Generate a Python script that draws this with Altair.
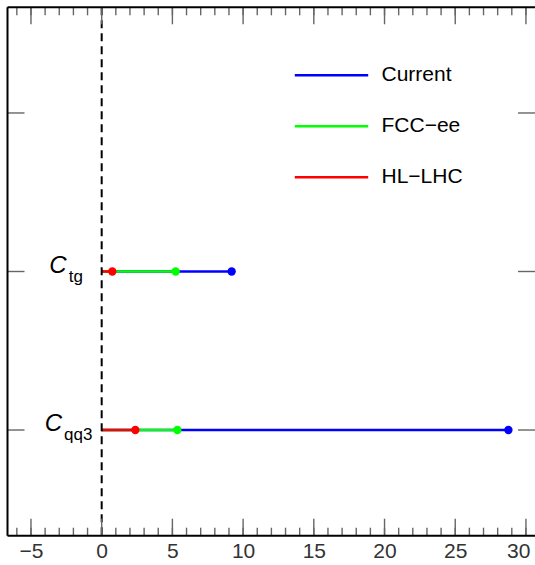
import altair as alt
import pandas as pd

# ---- data ----
coef_keys = ["qq3", "tg"]                 # coefficient subscripts (bottom to top)
row_order = [" ", "tg", "qq3"]            # rows top -> bottom (top row empty)
scenarios = ["Current", "FCC\u2212ee", "HL\u2212LHC"]
colors = ["#0000ff", "#00ff00", "#ff0000"]
current = [28.76, 9.19]
fcc_ee = [5.35, 5.23]
hl_lhc = [2.38, 0.75]
x_major = [-5, 0, 5, 10, 15, 20, 25, 30]
x_minor = [-6, -5, -4, -3, -2, -1, 0, 1, 2, 3, 4, 5, 6, 7, 8, 9, 10, 11, 12, 13, 14,
           15, 16, 17, 18, 19, 20, 21, 22, 23, 24, 25, 26, 27, 28, 29, 30]

rows = []
for scen, vals in zip(scenarios, [current, fcc_ee, hl_lhc]):
    for k, v in zip(coef_keys, vals):
        rows.append({"coef": k, "scenario": scen, "value": v, "zero": 0})
df = pd.DataFrame(rows)
lab_df = pd.DataFrame({"coef": coef_keys, "sub": coef_keys})
row_df = pd.DataFrame({"coef": row_order})
minor_df = pd.DataFrame({"t": x_minor})
major_df = pd.DataFrame({"t": x_major})
one = pd.DataFrame({"a": [0]})

W, H = 527.5, 528.4
FONT = "Liberation Sans"
TICK = "#666666"

xscale = alt.Scale(domain=[-6.66, 30.64], nice=False, zero=False)
yscale = alt.Scale(type="point", domain=row_order, padding=2 / 3)
xaxis = alt.Axis(values=x_major, title=None, grid=False, ticks=False, domain=False,
                 labelFontSize=21, labelFont=FONT, labelColor="#333333", labelPadding=5,
                 labelFlush=10, labelFlushOffset=4)
Y = alt.Y("coef:N", scale=yscale, axis=None)
color_scale = alt.Scale(domain=scenarios, range=colors)

lines = alt.Chart(df).mark_rule(strokeWidth=2.5).encode(
    x=alt.X("zero:Q", scale=xscale, axis=xaxis),
    x2="value:Q",
    y=Y,
    color=alt.Color("scenario:N", scale=color_scale, legend=alt.Legend(
        orient="none", legendX=286, legendY=30, title=None, symbolType="stroke",
        symbolSize=5390, symbolStrokeWidth=2.5, labelFontSize=21, labelFont=FONT,
        labelColor="black", rowPadding=3, labelOffset=12, padding=0)),
)

zero_line = alt.Chart(one).mark_rule(color="black", strokeWidth=2, strokeDash=[8, 5]).encode(
    x=alt.X("a:Q", scale=xscale, axis=xaxis)
)

points = alt.Chart(df).mark_circle(size=70, opacity=1).encode(
    x=alt.X("value:Q", scale=xscale, axis=xaxis),
    y=Y,
    color=alt.Color("scenario:N", scale=color_scale, legend=None),
)

# label "C_sub" centred near the same point: C's right edge depends on subscript length
labels = alt.Chart(lab_df).transform_calculate(
    cx="68.5 - 4.65 * length(datum.sub)", sx="70.5 - 4.65 * length(datum.sub)"
)
c_text = labels.mark_text(
    text="C", fontStyle="italic", fontSize=24, font=FONT, align="right",
    baseline="alphabetic", dy=1, color="black"
).encode(x=alt.X("cx:Q", scale=None, axis=None), y=Y)

sub_text = labels.mark_text(
    fontSize=17, font=FONT, align="left", baseline="alphabetic", dy=10, color="black"
).encode(x=alt.X("sx:Q", scale=None, axis=None), y=Y, text="sub:N")

def xticks(data, length):
    bot = alt.Chart(data).mark_rule(color=TICK, strokeWidth=1.4).encode(
        x=alt.X("t:Q", scale=xscale, axis=xaxis), y=alt.value(H - length), y2=alt.value(H))
    top = alt.Chart(data).mark_rule(color=TICK, strokeWidth=1.4).encode(
        x=alt.X("t:Q", scale=xscale, axis=xaxis), y=alt.value(0), y2=alt.value(length))
    return [bot, top]

yt_left = alt.Chart(row_df).mark_rule(color=TICK, strokeWidth=1.4).encode(
    x=alt.value(0), x2=alt.value(17), y=Y)
yt_right = alt.Chart(row_df).mark_rule(color=TICK, strokeWidth=1.4).encode(
    x=alt.value(W - 17), x2=alt.value(W), y=Y)

frame_left = alt.Chart(one).mark_rule(color="black", strokeWidth=2).encode(
    x=alt.value(0), y=alt.value(0), y2=alt.value(H))
frame_top = alt.Chart(one).mark_rule(color="black", strokeWidth=2).encode(
    x=alt.value(0), x2=alt.value(W), y=alt.value(0))
frame_bottom = alt.Chart(one).mark_rule(color="black", strokeWidth=2).encode(
    x=alt.value(0), x2=alt.value(W), y=alt.value(H))

chart = alt.layer(
    lines, zero_line, points, c_text, sub_text,
    *xticks(minor_df, 8), *xticks(major_df, 17),
    yt_left, yt_right, frame_left, frame_top, frame_bottom,
).properties(
    width=W, height=H,
    padding={"left": 7.5, "top": 7.3, "right": 0, "bottom": 29.3},
    autosize=alt.AutoSizeParams(type="none"),
    background="white",
).configure_view(stroke=None)

chart.save("out.html", embed_options={"renderer": "svg", "actions": False})
